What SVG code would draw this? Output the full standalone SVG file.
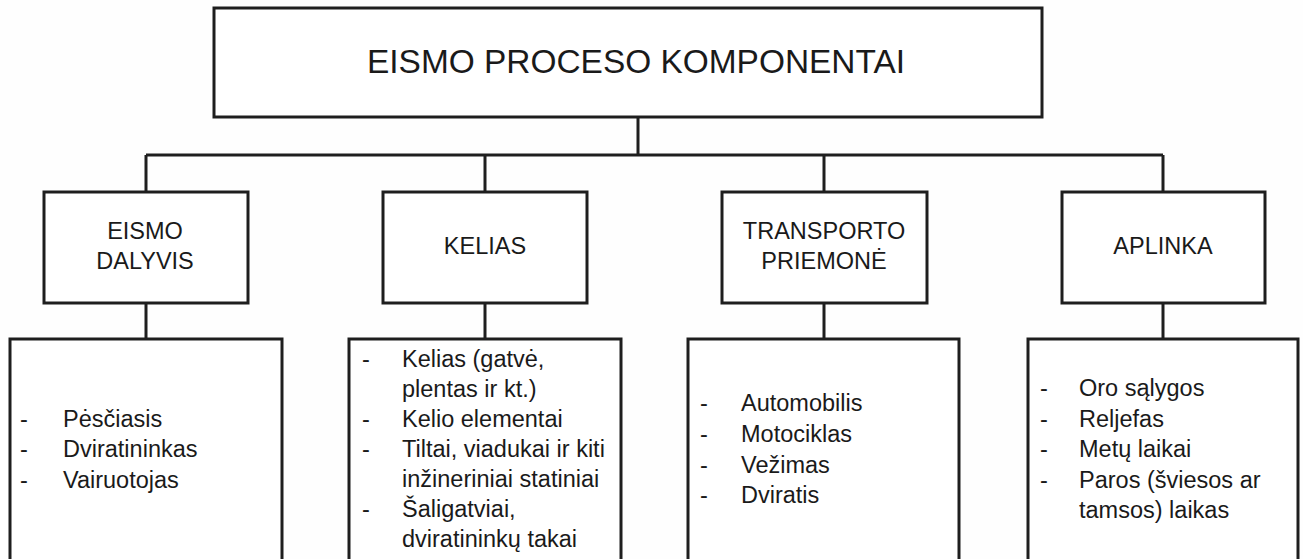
<svg xmlns="http://www.w3.org/2000/svg" width="1303" height="559" viewBox="0 0 1303 559">
<style>
.box{fill:#ffffff;stroke:#1e1e1e;stroke-width:3}
.ln{stroke:#1e1e1e;stroke-width:3;fill:none}
.t{font-family:"Liberation Sans",Arial,sans-serif;fill:#1a1a1a}
.title{font-size:34px;text-anchor:middle}
.lab{font-size:23.5px;text-anchor:middle}
.li{font-size:23.5px}
</style>
<rect width="1303" height="559" fill="#fefefe"/>
<g id="connectors">
<path class="ln" d="M638 117 V155 M146 155 H1163 M146 155 V192 M485 155 V192 M824 155 V192 M1163 155 V192"/>
<path class="ln" d="M146 303 V339 M485 303 V339 M824 303 V339 M1163 303 V339"/>
</g>
<g id="root">
<rect class="box" x="214" y="8" width="828" height="109"/>
<text class="t title" x="636" y="73" textLength="538" lengthAdjust="spacingAndGlyphs">EISMO PROCESO KOMPONENTAI</text>
</g>
<g id="eismo-dalyvis">
<rect class="box" x="44" y="192" width="204" height="111"/>
<text class="t lab" x="145" y="239">EISMO</text>
<text class="t lab" x="145" y="269">DALYVIS</text>
</g>
<g id="kelias">
<rect class="box" x="383" y="192" width="204" height="111"/>
<text class="t lab" x="485" y="254">KELIAS</text>
</g>
<g id="transporto-priemone">
<rect class="box" x="722" y="192" width="205" height="111"/>
<text class="t lab" x="824" y="239">TRANSPORTO</text>
<text class="t lab" x="824" y="269">PRIEMONĖ</text>
</g>
<g id="aplinka">
<rect class="box" x="1062" y="192" width="203" height="111"/>
<text class="t lab" x="1163" y="254">APLINKA</text>
</g>
<g id="list-dalyvis">
<rect class="box" x="10" y="339" width="272" height="226"/>
<text class="t li" x="20" y="427">-</text><text class="t li" x="63" y="427">Pėsčiasis</text>
<text class="t li" x="20" y="457">-</text><text class="t li" x="63" y="457">Dviratininkas</text>
<text class="t li" x="20" y="488">-</text><text class="t li" x="63" y="488">Vairuotojas</text>
</g>
<g id="list-kelias">
<rect class="box" x="349" y="339" width="272" height="226"/>
<text class="t li" x="362" y="367">-</text><text class="t li" x="402" y="367">Kelias (gatvė,</text>
<text class="t li" x="402" y="397">plentas ir kt.)</text>
<text class="t li" x="362" y="427">-</text><text class="t li" x="402" y="427">Kelio elementai</text>
<text class="t li" x="362" y="457">-</text><text class="t li" x="402" y="457">Tiltai, viadukai ir kiti</text>
<text class="t li" x="402" y="487">inžineriniai statiniai</text>
<text class="t li" x="362" y="517">-</text><text class="t li" x="402" y="517">Šaligatviai,</text>
<text class="t li" x="402" y="547">dviratininkų takai</text>
</g>
<g id="list-transportas">
<rect class="box" x="688" y="339" width="271" height="226"/>
<text class="t li" x="700" y="411">-</text><text class="t li" x="741" y="411">Automobilis</text>
<text class="t li" x="700" y="442">-</text><text class="t li" x="741" y="442">Motociklas</text>
<text class="t li" x="700" y="473">-</text><text class="t li" x="741" y="473">Vežimas</text>
<text class="t li" x="700" y="503">-</text><text class="t li" x="741" y="503">Dviratis</text>
</g>
<g id="list-aplinka">
<rect class="box" x="1028" y="339" width="270" height="226"/>
<text class="t li" x="1040" y="396">-</text><text class="t li" x="1079" y="396">Oro sąlygos</text>
<text class="t li" x="1040" y="427">-</text><text class="t li" x="1079" y="427">Reljefas</text>
<text class="t li" x="1040" y="457">-</text><text class="t li" x="1079" y="457">Metų laikai</text>
<text class="t li" x="1040" y="488">-</text><text class="t li" x="1079" y="488">Paros (šviesos ar</text>
<text class="t li" x="1079" y="518">tamsos) laikas</text>
</g>
</svg>
